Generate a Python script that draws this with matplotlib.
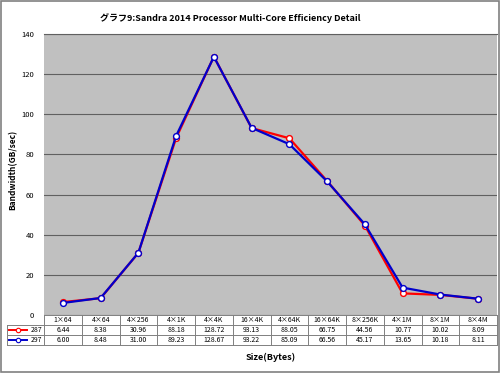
import matplotlib
matplotlib.use("Agg")
import matplotlib.pyplot as plt
from matplotlib.lines import Line2D
from matplotlib.patches import Rectangle

plt.rcParams['font.family'] = ['Noto Sans CJK JP', 'DejaVu Sans']

categories = ["1×64", "4×64", "4×256", "4×1K", "4×4K", "16×4K", "4×64K",
              "16×64K", "8×256K", "4×1M", "8×1M", "8×4M"]
s287 = [6.44, 8.38, 30.96, 88.18, 128.72, 93.13, 88.05, 66.75, 44.56, 10.77, 10.02, 8.09]
s297 = [6.00, 8.48, 31.00, 89.23, 128.67, 93.22, 85.09, 66.56, 45.17, 13.65, 10.18, 8.11]
series_names = ["287", "297"]
series_colors = ["#FF0000", "#0000CC"]
yticks = [0, 20, 40, 60, 80, 100, 120, 140]

W, H = 500, 373
fig = plt.figure(figsize=(W / 100, H / 100), dpi=100)
fig.patch.set_facecolor("white")
fig.add_artist(Rectangle((0.002, 0.003), 0.995, 0.994, transform=fig.transFigure,
                         fill=False, edgecolor="#808080", linewidth=1.2))

L, R, T, B = 44, 497, 34, 315
ax = fig.add_axes([L / W, (H - B) / H, (R - L) / W, (B - T) / H])
ax.set_facecolor("#C0C0C0")
n = len(categories)
x = list(range(n))
for vals, col in zip([s287, s297], series_colors):
    ax.plot(x, vals, color=col, linewidth=1.6, marker="o", markersize=4.2,
            markerfacecolor="white", markeredgecolor=col, markeredgewidth=1.0, zorder=3)

ax.set_xlim(-0.5, n - 0.5)
ax.set_ylim(0, 140)
ax.set_yticks(yticks)
ax.set_yticklabels([str(v) for v in yticks], fontsize=5.5)
ax.yaxis.grid(True, color="#606060", linewidth=0.8)
ax.set_axisbelow(True)
ax.set_xticks([])
ax.tick_params(axis="y", length=0, pad=7)
for s in ax.spines.values():
    s.set_visible(False)
ax.spines["top"].set_visible(True)
ax.spines["top"].set_color("#606060")

fig.text(13 / W, 1 - 170 / H, "Bandwidth(GB/sec)", rotation=90, ha="center", va="center",
         fontsize=6, fontweight="bold")

# data table below axes
row_h = 10 / (B - T)
left_col = (7 - L) / (R - L)
lc = "#808080"
tk = dict(transform=ax.transAxes, clip_on=False, color=lc, linewidth=0.7)
for i in range(4):
    yy = -i * row_h
    x0 = 0 if i == 0 else left_col
    ax.add_line(Line2D([x0, 1], [yy, yy], **tk))
for j in range(n + 1):
    xx = j / n
    ax.add_line(Line2D([xx, xx], [0, -3 * row_h], **tk))
ax.add_line(Line2D([left_col, left_col], [-row_h, -3 * row_h], **tk))
for j, c in enumerate(categories):
    ax.text((j + 0.5) / n, -0.5 * row_h, c, transform=ax.transAxes,
            ha="center", va="center", fontsize=5)
for r, (vals, name, col) in enumerate(zip([s287, s297], series_names, series_colors)):
    yc = -(r + 1.5) * row_h
    for j, v in enumerate(vals):
        ax.text((j + 0.5) / n, yc, f"{v:.2f}", transform=ax.transAxes,
                ha="center", va="center", fontsize=5)
    lx0 = left_col + 0.004
    lx1 = left_col + 0.045
    ax.add_line(Line2D([lx0, lx1], [yc, yc], transform=ax.transAxes, clip_on=False,
                       color=col, linewidth=1.4))
    ax.plot([(lx0 + lx1) / 2], [yc], transform=ax.transAxes, clip_on=False,
            marker="o", markersize=3.2, markerfacecolor="white", markeredgecolor=col,
            markeredgewidth=0.8, linestyle="none")
    ax.text(-0.003, yc, name, transform=ax.transAxes, ha="right", va="center", fontsize=5)

fig.text(230 / W, 1 - 18 / H, "グラフ9:Sandra 2014 Processor Multi-Core Efficiency Detail",
         ha="center", va="center", fontsize=6.5, fontweight="bold")
fig.text((L + R) / 2 / W, 1 - 357 / H, "Size(Bytes)", ha="center", va="center",
         fontsize=6.5, fontweight="bold")

fig.savefig("out.png", dpi=100)
